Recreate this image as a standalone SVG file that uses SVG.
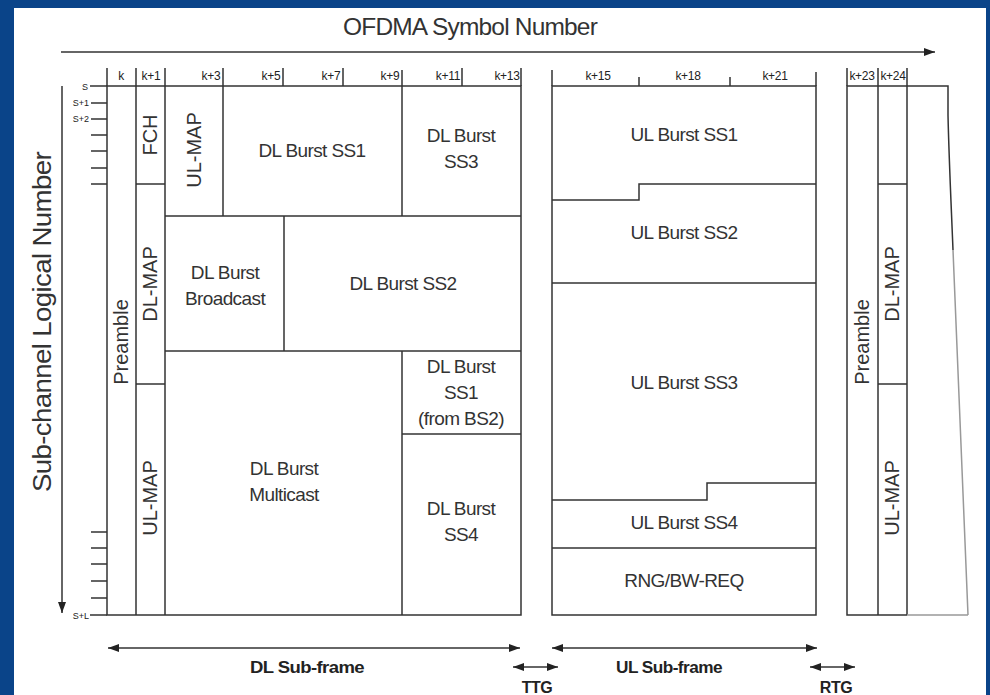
<svg xmlns="http://www.w3.org/2000/svg" width="990" height="695" viewBox="0 0 990 695">
<style>
.ln{stroke:#333;stroke-width:1.5;fill:none}
.gl{stroke:#999;stroke-width:1.5;fill:none}
.t{font-family:"Liberation Sans",Arial,sans-serif;fill:#333;text-anchor:middle;dominant-baseline:central;font-size:19px;letter-spacing:-0.6px}
.tv{font-family:"Liberation Sans",Arial,sans-serif;fill:#333;text-anchor:middle;dominant-baseline:central;font-size:20px}
.hd{font-family:"Liberation Sans",Arial,sans-serif;fill:#222;font-size:12px;text-anchor:middle;letter-spacing:-0.3px}
.sm{font-family:"Liberation Sans",Arial,sans-serif;fill:#222;font-size:9px;text-anchor:end}
.b{font-family:"Liberation Sans",Arial,sans-serif;fill:#222;font-size:16px;font-weight:bold;text-anchor:middle;letter-spacing:-0.5px}
</style>
<defs>
<marker id="ah" markerWidth="12" markerHeight="10" refX="11" refY="5" orient="auto-start-reverse" markerUnits="userSpaceOnUse">
<path d="M0,1 L11,5 L0,9 Z" fill="#222"/>
</marker>
</defs>
<rect x="0" y="0" width="990" height="695" fill="#0a4489"/>
<rect x="14" y="8" width="972" height="687" fill="#fff"/>

<g id="title">
<text x="470" y="26" class="tv" style="font-size:24px;letter-spacing:-0.8px" textLength="254" lengthAdjust="spacingAndGlyphs">OFDMA Symbol Number</text>
</g>
<g id="yaxis-label">
<text transform="translate(42,322) rotate(-90)" class="tv" style="font-size:26px;letter-spacing:-0.6px" textLength="340" lengthAdjust="spacingAndGlyphs">Sub-channel Logical Number</text>
</g>

<g id="connectors">
<line x1="61" y1="52" x2="935" y2="52" class="ln" marker-end="url(#ah)"/>
<line x1="62" y1="86" x2="62" y2="613" class="ln" marker-end="url(#ah)"/>
<line x1="108" y1="648" x2="520" y2="648" class="ln" marker-start="url(#ah)" marker-end="url(#ah)"/>
<line x1="552" y1="648" x2="817" y2="648" class="ln" marker-start="url(#ah)" marker-end="url(#ah)"/>
<line x1="513" y1="667" x2="558" y2="667" class="ln" marker-start="url(#ah)" marker-end="url(#ah)"/>
<line x1="810" y1="667" x2="855" y2="667" class="ln" marker-start="url(#ah)" marker-end="url(#ah)"/>
</g>

<g id="axis-ticks">
<path class="ln" d="M90,86H107 M91,103H107 M91,119H107 M91,135H107 M91,151H107 M91,168H107 M91,184H107 M91,532H107 M91,548H107 M91,564H107 M91,581H107 M91,598H107 M90,615H107"/>
<text x="88" y="90" class="sm">S</text>
<text x="89" y="106" class="sm">S+1</text>
<text x="89" y="122" class="sm">S+2</text>
<text x="89" y="619" class="sm">S+L</text>
</g>

<g id="header">
<path class="ln" d="M107,68V86 M136,68V86 M165,68V86 M223,68V86 M283,68V86 M343,68V86 M402,70V86 M462,68V86 M521,68V86 M552,70V86 M639,77V86 M730,77V86 M816,72V86 M847,68V86 M878,68V86 M907,68V86"/>
<text x="121" y="80" class="hd">k</text>
<text x="151" y="80" class="hd">k+1</text>
<text x="211" y="80" class="hd">k+3</text>
<text x="271" y="80" class="hd">k+5</text>
<text x="331" y="80" class="hd">k+7</text>
<text x="390" y="80" class="hd">k+9</text>
<text x="448" y="80" class="hd">k+11</text>
<text x="507" y="80" class="hd">k+13</text>
<text x="598" y="80" class="hd">k+15</text>
<text x="688" y="80" class="hd">k+18</text>
<text x="775" y="80" class="hd">k+21</text>
<text x="862" y="80" class="hd">k+23</text>
<text x="893" y="80" class="hd">k+24</text>
</g>

<g id="dl-frame">
<path class="ln" d="M107,86H521V615H107Z M136,86V615 M165,86V615"/>
</g>
<g id="preamble-dl"><text transform="translate(121,342) rotate(-90)" class="tv">Preamble</text></g>
<g id="fch"><path class="ln" d="M136,184H165"/><text transform="translate(150,135) rotate(-90)" class="tv">FCH</text></g>
<g id="dl-map"><path class="ln" d="M136,384H165"/><text transform="translate(150,284) rotate(-90)" class="tv">DL-MAP</text></g>
<g id="ul-map-col"><text transform="translate(150,498) rotate(-90)" class="tv">UL-MAP</text></g>
<g id="ul-map-box"><path class="ln" d="M223,86V216 M165,216H521"/><text transform="translate(194,150) rotate(-90)" class="tv">UL-MAP</text></g>
<g id="dl-ss1"><text x="312" y="150" class="t">DL Burst SS1</text></g>
<g id="dl-ss3"><path class="ln" d="M402,86V216"/><text x="461" y="135" class="t">DL Burst</text><text x="461" y="161" class="t">SS3</text></g>
<g id="dl-broadcast"><path class="ln" d="M284,216V351 M165,351H521"/><text x="225" y="272" class="t">DL Burst</text><text x="225" y="298" class="t">Broadcast</text></g>
<g id="dl-ss2"><text x="403" y="283" class="t">DL Burst SS2</text></g>
<g id="dl-multicast"><path class="ln" d="M402,351V615"/><text x="284" y="468" class="t">DL Burst</text><text x="284" y="494" class="t">Multicast</text></g>
<g id="dl-ss1-bs2"><path class="ln" d="M402,434H521"/><text x="461" y="366" class="t">DL Burst</text><text x="461" y="392" class="t">SS1</text><text x="461" y="418" class="t">(from BS2)</text></g>
<g id="dl-ss4"><text x="461" y="508" class="t">DL Burst</text><text x="461" y="534" class="t">SS4</text></g>

<g id="ul-frame"><path class="ln" d="M552,86H816V615H552Z"/></g>
<g id="ul-ss1"><path class="ln" d="M552,200H639V184H816"/><text x="684" y="134" class="t">UL Burst SS1</text></g>
<g id="ul-ss2"><path class="ln" d="M552,283H816"/><text x="684" y="232" class="t">UL Burst SS2</text></g>
<g id="ul-ss3"><path class="ln" d="M552,500H707V483H816"/><text x="684" y="382" class="t">UL Burst SS3</text></g>
<g id="ul-ss4"><path class="ln" d="M552,548H816"/><text x="684" y="522" class="t">UL Burst SS4</text></g>
<g id="rng"><text x="684" y="580" class="t">RNG/BW-REQ</text></g>

<g id="next-frame">
<path class="ln" d="M907,615H847V86H948V115 M878,86V615 M907,86V615"/>
<path class="ln" d="M948,115 C949,160 951,200 953,250"/>
<path class="gl" d="M907,615H968 M953,250 C958,380 964,500 968,615"/>
<path class="ln" d="M878,184H907 M878,384H907"/>
<text transform="translate(862,342) rotate(-90)" class="tv">Preamble</text>
<text transform="translate(892,284) rotate(-90)" class="tv">DL-MAP</text>
<text transform="translate(892,498) rotate(-90)" class="tv">UL-MAP</text>
</g>

<g id="labels">
<text x="307" y="673" class="b" textLength="114" lengthAdjust="spacingAndGlyphs">DL Sub-frame</text>
<text x="669" y="673" class="b" textLength="106" lengthAdjust="spacingAndGlyphs">UL Sub-frame</text>
<text x="537" y="693" class="b">TTG</text>
<text x="836" y="693" class="b">RTG</text>
</g>
</svg>
